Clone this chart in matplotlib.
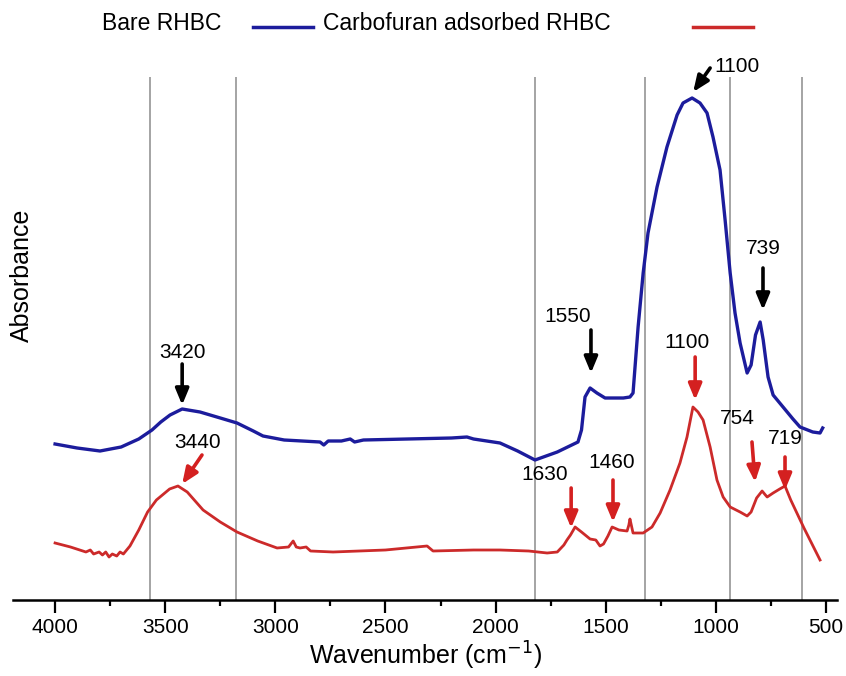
import matplotlib
matplotlib.use('Agg')
import matplotlib.pyplot as plt
from matplotlib.lines import Line2D

plt.rcParams['font.family'] = ['Liberation Sans', 'DejaVu Sans']

# widma FTIR (liczba falowa, absorbancja w jedn. umownych)
bare_wn = [4000, 3900, 3796, 3700, 3620, 3560, 3520, 3478, 3423, 3342, 3250, 3174, 3100, 3056,
           2960, 2797, 2780, 2760, 2700, 2660, 2640, 2600, 2400, 2200, 2130, 2100, 1980, 1900,
           1821, 1720, 1626, 1610, 1594, 1571, 1540, 1503, 1420, 1390, 1376, 1353, 1330, 1308,
           1267, 1222, 1176, 1149, 1108, 1072, 1040, 1013, 981, 958, 935, 913, 890, 858, 840,
           820, 799, 785, 763, 740, 695, 650, 618, 560, 527, 515]
bare_abs = [0.312, 0.304, 0.298, 0.306, 0.322, 0.340, 0.356, 0.370, 0.382, 0.376, 0.364, 0.354,
            0.338, 0.328, 0.320, 0.316, 0.310, 0.318, 0.318, 0.322, 0.316, 0.320, 0.322, 0.324,
            0.326, 0.322, 0.314, 0.298, 0.280, 0.296, 0.316, 0.340, 0.406, 0.424, 0.414, 0.404,
            0.404, 0.406, 0.414, 0.546, 0.654, 0.734, 0.826, 0.906, 0.970, 0.994, 1.004, 0.994,
            0.974, 0.926, 0.860, 0.760, 0.654, 0.574, 0.514, 0.454, 0.470, 0.530, 0.556, 0.520,
            0.446, 0.410, 0.386, 0.362, 0.346, 0.336, 0.334, 0.344]

carb_wn = [4000, 3930, 3860, 3840, 3825, 3800, 3785, 3770, 3755, 3740, 3720, 3705, 3690, 3675,
           3660, 3620, 3580, 3540, 3480, 3442, 3400, 3328, 3250, 3174, 3080, 2992, 2940, 2919,
           2905, 2888, 2860, 2840, 2738, 2500, 2311, 2284, 2100, 1980, 1850, 1766, 1720, 1690,
           1676, 1660, 1639, 1610, 1571, 1545, 1526, 1510, 1490, 1471, 1440, 1403, 1395, 1390,
           1384, 1376, 1330, 1290, 1253, 1208, 1163, 1131, 1104, 1081, 1058, 1026, 995, 967,
           935, 890, 858, 840, 815, 790, 775, 767, 740, 710, 686, 660, 600, 527]
carb_abs = [0.114, 0.106, 0.096, 0.100, 0.092, 0.096, 0.090, 0.096, 0.086, 0.092, 0.088, 0.096,
            0.092, 0.100, 0.108, 0.140, 0.176, 0.200, 0.222, 0.228, 0.216, 0.180, 0.156, 0.136,
            0.118, 0.104, 0.106, 0.118, 0.106, 0.104, 0.106, 0.098, 0.096, 0.100, 0.108, 0.098,
            0.100, 0.100, 0.098, 0.094, 0.096, 0.110, 0.120, 0.130, 0.146, 0.136, 0.122, 0.120,
            0.108, 0.112, 0.128, 0.146, 0.140, 0.138, 0.150, 0.162, 0.150, 0.134, 0.134, 0.146,
            0.174, 0.220, 0.274, 0.326, 0.386, 0.376, 0.360, 0.306, 0.240, 0.206, 0.186, 0.176,
            0.168, 0.176, 0.204, 0.218, 0.210, 0.206, 0.214, 0.222, 0.228, 0.200, 0.144, 0.080]

grid_wn = [3570, 3180, 1820, 1320, 935, 610]

# opisy pasm: tekst, pozycja tekstu, poczatek i koniec strzalki
bare_labels = ['3420', '1550', '1100', '739']
bare_text_xy = [(3423, 0.496), (1671, 0.566), (904, 1.066), (786, 0.704)]
bare_arrow_from = [(3423, 0.472), (1567, 0.540), (1026, 1.064), (786, 0.664)]
bare_arrow_to = [(3423, 0.390), (1567, 0.454), (1103, 1.016), (786, 0.580)]

carb_labels = ['3440', '1630', '1460', '1100', '754', '719']
carb_text_xy = [(3355, 0.316), (1775, 0.250), (1471, 0.276), (1131, 0.514), (904, 0.364), (686, 0.322)]
carb_arrow_from = [(3333, 0.290), (1657, 0.224), (1467, 0.240), (1094, 0.486), (836, 0.316), (686, 0.286)]
carb_arrow_to = [(3423, 0.232), (1657, 0.144), (1467, 0.156), (1094, 0.400), (822, 0.236), (686, 0.220)]

blue = '#1c1c9c'
red = '#cc2a2a'

fig = plt.figure(figsize=(8.46, 6.76), dpi=100)
ax = fig.add_axes([13 / 846, 76 / 676, 824 / 846, 550 / 676])

ax.vlines(grid_wn, 0, 1.046, color='#8c8c8c', lw=1.1)
ax.plot(bare_wn, bare_abs, color=blue, lw=2.4, solid_joinstyle='round')
ax.plot(carb_wn, carb_abs, color=red, lw=2.0, solid_joinstyle='round')

for lab, txy, a0, a1 in zip(bare_labels, bare_text_xy, bare_arrow_from, bare_arrow_to):
    ax.text(txy[0], txy[1], lab, ha='center', va='center', fontsize=15)
    ax.annotate('', xy=a1, xytext=a0,
                arrowprops=dict(arrowstyle='-|>,head_length=0.6,head_width=0.25', lw=2.6,
                                color='black', mutation_scale=16, shrinkA=0, shrinkB=0))

for lab, txy, a0, a1 in zip(carb_labels, carb_text_xy, carb_arrow_from, carb_arrow_to):
    ax.text(txy[0], txy[1], lab, ha='center', va='center', fontsize=15)
    ax.annotate('', xy=a1, xytext=a0,
                arrowprops=dict(arrowstyle='-|>,head_length=0.6,head_width=0.25', lw=2.6,
                                color='#d42020', mutation_scale=16, shrinkA=0, shrinkB=0))

ax.set_xlim(4191, 450)
ax.set_ylim(0, 1.1)
ax.set_xticks([4000, 3500, 3000, 2500, 2000, 1500, 1000, 500])
ax.set_xticks([3750, 3250, 2750, 2250, 1750, 1250, 750], minor=True)
ax.set_yticks([])
ax.tick_params(axis='x', which='major', direction='out', length=9, width=1.6, labelsize=15, pad=4)
ax.tick_params(axis='x', which='minor', direction='out', length=4.5, width=1.6)
for s in ['left', 'top', 'right']:
    ax.spines[s].set_visible(False)
ax.spines['bottom'].set_linewidth(1.8)

ax.set_xlabel('Wavenumber (cm$^{-1}$)', fontsize=18, labelpad=2)
ax.set_ylabel('Absorbance', fontsize=18)
ax.yaxis.set_label_coords(0.026, 0.59)

# legenda u gory rysunku
fig.text(102 / 846, 1 - 24 / 676, 'Bare RHBC', fontsize=16.5, ha='left', va='center')
fig.add_artist(Line2D([253 / 846, 313 / 846], [1 - 27 / 676] * 2, color=blue, lw=2.5))
fig.text(323 / 846, 1 - 24 / 676, 'Carbofuran adsorbed RHBC', fontsize=16.5, ha='left', va='center')
fig.add_artist(Line2D([693 / 846, 753 / 846], [1 - 27 / 676] * 2, color=red, lw=2.5))

fig.savefig('out.png', dpi=100)
